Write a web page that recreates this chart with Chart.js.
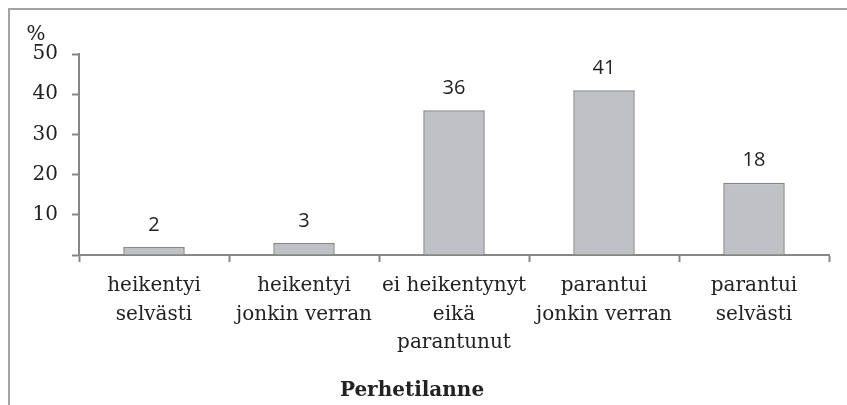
<!DOCTYPE html>
<html>
<head>
<meta charset="utf-8">
<script src="https://cdn.jsdelivr.net/npm/chart.js@4/dist/chart.umd.min.js"></script>
<style>
  body { margin: 0; background: #fff; }
  #wrap { position: relative; width: 847px; height: 405px; overflow: hidden; }
  #frame { position: absolute; left: 8px; top: 8px; width: 900px; height: 500px;
           border-top: 2px solid #a3a3a3; border-left: 2px solid #a3a3a3; }
  canvas { position: absolute; left: 0; top: 0; }
</style>
</head>
<body>
<div id="wrap">
  <div id="frame"></div>
  <canvas id="barChart" width="847" height="405"></canvas>
</div>
<script>
// values
const categories = [
    ['heikentyi', 'selvästi'],
    ['heikentyi', 'jonkin verran'],
    ['ei heikentynyt', 'eikä', 'parantunut'],
    ['parantui', 'jonkin verran'],
    ['parantui', 'selvästi']
]
const percents = [2, 3, 36, 41, 18]
const yTicks = [0, 10, 20, 30, 40, 50]
const yUnit = '%'
const xTitle = 'Perhetilanne'

const serif = '"DejaVu Serif", serif'
const axisGrey = '#868686'

// numbers above bars, unit on top of y axis, title under the labels
const extras = {
    id: 'extras',
    afterDatasetsDraw(chart) {
        const ctx = chart.ctx
        const meta = chart.getDatasetMeta(0)
        ctx.save()
        ctx.fillStyle = '#222'
        ctx.textAlign = 'center'
        ctx.textBaseline = 'middle'
        ctx.font = '20px "Open Sans", sans-serif'
        meta.data.forEach((bar, i) => {
            ctx.fillText(String(percents[i]), bar.x, bar.y - 22)
        })

        const y = chart.scales.y
        ctx.font = '20px ' + serif
        ctx.fillText(yUnit, y.left + 36, y.top - 19)

        ctx.font = 'bold 20px ' + serif
        ctx.fillText(xTitle, 412, 391)
        ctx.restore()
    }
}

var ctx = document.getElementById('barChart').getContext('2d')
new Chart(ctx, {
    type: 'bar',
    data: {
        labels: categories,
        datasets: [{
            data: percents,
            backgroundColor: '#c0c1c4',
            borderColor: '#858585',
            borderWidth: 1.5,
            barPercentage: 0.41,
            categoryPercentage: 1
        }]
    },
    options: {
        responsive: false,
        animation: false,
        layout: { padding: { top: 54, right: 18, left: 0, bottom: 0 } },
        plugins: {
            legend: { display: false },
            tooltip: { enabled: false }
        },
        scales: {
            x: {
                afterFit(scale) { scale.height = 150 },
                grid: {
                    offset: true,
                    drawOnChartArea: false,
                    tickLength: 7,
                    tickWidth: 2,
                    tickColor: axisGrey
                },
                border: { color: axisGrey, width: 2 },
                ticks: {
                    color: '#222',
                    padding: 10,
                    maxRotation: 0,
                    autoSkip: false,
                    font: { family: serif, size: 20, lineHeight: 1.42 }
                }
            },
            y: {
                min: yTicks[0],
                max: yTicks[yTicks.length - 1],
                afterFit(scale) { scale.width = 79 },
                afterBuildTicks(scale) { scale.ticks = yTicks.map(v => ({ value: v })) },
                grid: {
                    drawOnChartArea: false,
                    tickLength: 7,
                    tickWidth: 2,
                    tickColor: axisGrey
                },
                border: { color: axisGrey, width: 2 },
                ticks: {
                    color: '#222',
                    padding: 14,
                    font: { family: serif, size: 20 },
                    callback: (v) => v === 0 ? '' : v
                }
            }
        }
    },
    plugins: [extras]
})
</script>
</body>
</html>
